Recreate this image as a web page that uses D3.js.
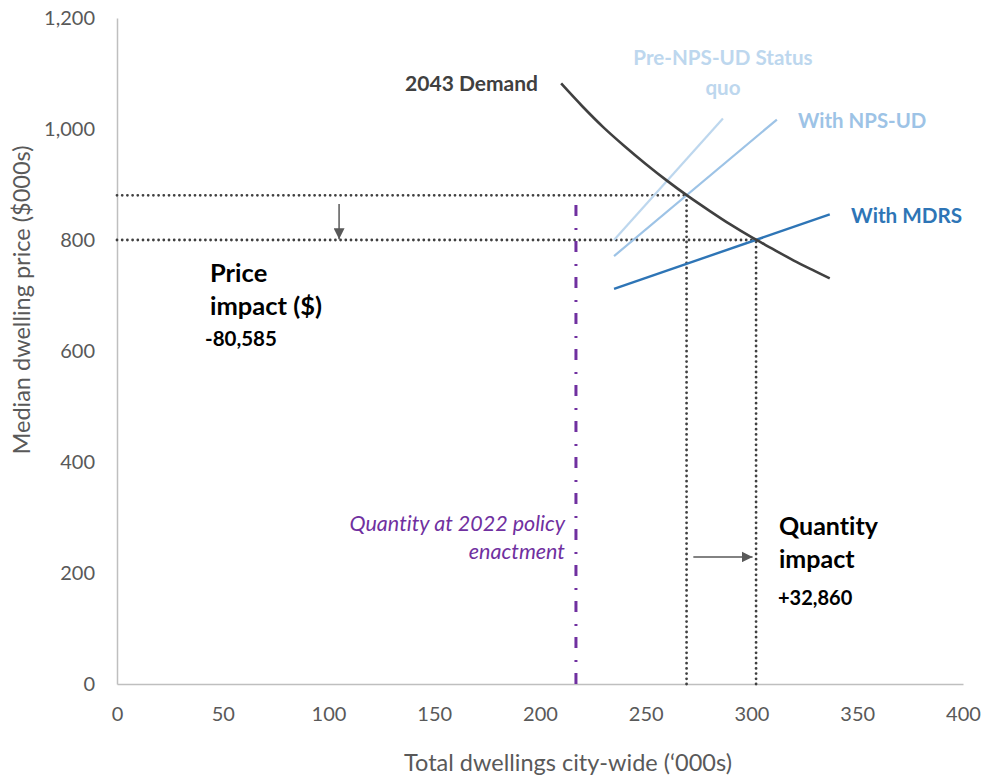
<!DOCTYPE html>
<html><head><meta charset="utf-8">
<script src="https://cdn.jsdelivr.net/npm/d3@7"></script>
<style>body{margin:0;background:#fff}svg{display:block}text{font-variant-ligatures:none;font-feature-settings:"liga" 0,"clig" 0}</style>
</head><body>
<svg id="c" width="985" height="778"></svg>
<script>
const xTicks=[0,50,100,150,200,250,300,350,400];
const yTicks=[0,200,400,600,800,1000,1200];
const demandQty=[210,220,230,240,250,260,270,280,290,300,310,320,330,337];
const demandPrice=[1082,1041,1003,969,937,907,879,853,828,805,784,763,744,731];
const statusQuo=[[235,800],[286.5,1019]];
const npsud=[[235,771],[312,1017]];
const mdrs=[[235,712],[337,846]];
const priceBefore=880.585, priceAfter=800;
const qtyBefore=269.3, qtyAfter=302.16;
const qty2022=217;
const labels={demand:"2043 Demand",sq:["Pre-NPS-UD Status","quo"],nps:"With NPS-UD",mdrs:"With MDRS",
 price:["Price","impact ($)"],priceVal:"-80,585",qty:["Quantity","impact"],qtyVal:"+32,860",
 q2022:["Quantity at 2022 policy","enactment"],xTitle:"Total dwellings city-wide (\u2018000s)",yTitle:"Median dwelling price ($000s)"};

const demand=demandQty.map((q,i)=>[q,demandPrice[i]]);
const svg=d3.select("#c");
const x=d3.scaleLinear().domain([0,400]).range([117,963]);
const y=d3.scaleLinear().domain([0,1200]).range([684,18]);
const F="Lato, 'Open Sans', sans-serif";
const tc="#595959";

// axes
const ax=svg.append("g").attr("transform","translate(0,684)").call(d3.axisBottom(x).tickValues(xTicks).tickSize(0).tickPadding(23).tickFormat(d3.format("d")));
ax.select(".domain").attr("stroke","#BFBFBF").attr("stroke-width",1.5);
ax.selectAll("text").attr("fill",tc).attr("font-size",20).attr("font-family",F);
const ay=svg.append("g").attr("transform","translate(117,0)").call(d3.axisLeft(y).tickValues(yTicks).tickSize(0).tickPadding(22).tickFormat(d3.format(",")));
ay.select(".domain").attr("stroke","#BFBFBF").attr("stroke-width",1.5);
ay.selectAll("text").attr("fill",tc).attr("font-size",20).attr("font-family",F);

svg.append("text").attr("x",568).attr("y",771).attr("text-anchor","middle").attr("fill",tc).attr("font-size",23.5).attr("font-family",F).text(labels.xTitle);
svg.append("text").attr("transform","translate(30,300) rotate(-90)").attr("text-anchor","middle").attr("fill",tc).attr("font-size",23.5).attr("font-family",F).text(labels.yTitle);

// dotted reference lines
const dot=(x1,y1,x2,y2)=>svg.append("line").attr("x1",x(x1)).attr("y1",y(y1)).attr("x2",x(x2)).attr("y2",y(y2))
 .attr("stroke","#404040").attr("stroke-width",2.8).attr("stroke-linecap","round").attr("stroke-dasharray","0,5.2");
dot(0,priceBefore,qtyBefore,priceBefore);
dot(0,priceAfter,qtyAfter,priceAfter);
dot(qtyBefore,0,qtyBefore,priceBefore);
dot(qtyAfter,0,qtyAfter,priceAfter);

// purple dash-dot
svg.append("line").attr("x1",x(qty2022)).attr("y1",y(0)).attr("x2",x(qty2022)).attr("y2",y(875))
 .attr("stroke","#7030A0").attr("stroke-width",3).attr("stroke-dasharray","11,11,2,12");

const line=d3.line().x(d=>x(d[0])).y(d=>y(d[1]));
svg.append("path").datum(statusQuo).attr("d",line).attr("fill","none").attr("stroke","#BDD7EE").attr("stroke-width",2.2);
svg.append("path").datum(npsud).attr("d",line).attr("fill","none").attr("stroke","#9DC3E6").attr("stroke-width",2.2);
svg.append("path").datum(mdrs).attr("d",line).attr("fill","none").attr("stroke","#2E75B6").attr("stroke-width",2.4);
svg.append("path").datum(demand).attr("d",d3.line().x(d=>x(d[0])).y(d=>y(d[1])).curve(d3.curveCatmullRom)).attr("fill","none").attr("stroke","#404040").attr("stroke-width",2.6);

// arrows
const defs=svg.append("defs");
defs.append("marker").attr("id","ah").attr("viewBox","0 0 10 10").attr("refX",10).attr("refY",5)
 .attr("markerWidth",11).attr("markerHeight",11).attr("markerUnits","userSpaceOnUse").attr("orient","auto")
 .append("path").attr("d","M0,0L10,5L0,10Z").attr("fill","#595959");
svg.append("line").attr("x1",x(105)).attr("y1",y(865)).attr("x2",x(105)).attr("y2",y(801.5))
 .attr("stroke","#595959").attr("stroke-width",1.5).attr("marker-end","url(#ah)");
svg.append("line").attr("x1",x(272.5)).attr("y1",y(229)).attr("x2",x(300.5)).attr("y2",y(229))
 .attr("stroke","#595959").attr("stroke-width",1.5).attr("marker-end","url(#ah)");

// labels
const T=(tx,ty,s,o)=>{const t=svg.append("text").attr("x",tx).attr("y",ty).attr("font-family",F).text(s);
 for(const k in o)t.attr(k,o[k]);return t;};
T(538,91,labels.demand,{"text-anchor":"end","font-weight":"bold","font-size":21,fill:"#404040"});
T(723,65,labels.sq[0],{"text-anchor":"middle","font-weight":"bold","font-size":20.6,fill:"#BDD7EE"});
T(723,95,labels.sq[1],{"text-anchor":"middle","font-weight":"bold","font-size":20.6,fill:"#BDD7EE"});
T(798,128,labels.nps,{"font-weight":"bold","font-size":20.4,fill:"#9DC3E6"});
T(851,223,labels.mdrs,{"font-weight":"bold","font-size":20.7,fill:"#2E75B6"});
T(210,282,labels.price[0],{"font-weight":"bold","font-size":25.5,fill:"#000"});
T(210,315,labels.price[1],{"font-weight":"bold","font-size":25.5,fill:"#000"});
T(205,346,labels.priceVal,{"font-weight":"bold","font-size":20.5,fill:"#000"});
T(779,535,labels.qty[0],{"font-weight":"bold","font-size":25,fill:"#000"});
T(779,568,labels.qty[1],{"font-weight":"bold","font-size":25,fill:"#000"});
T(778,605,labels.qtyVal,{"font-weight":"bold","font-size":20,fill:"#000"});
T(565,531,labels.q2022[0],{"text-anchor":"end","font-style":"italic","font-size":21.5,fill:"#7030A0"});
T(565,559,labels.q2022[1],{"text-anchor":"end","font-style":"italic","font-size":21.5,fill:"#7030A0"});
</script>
</body></html>
